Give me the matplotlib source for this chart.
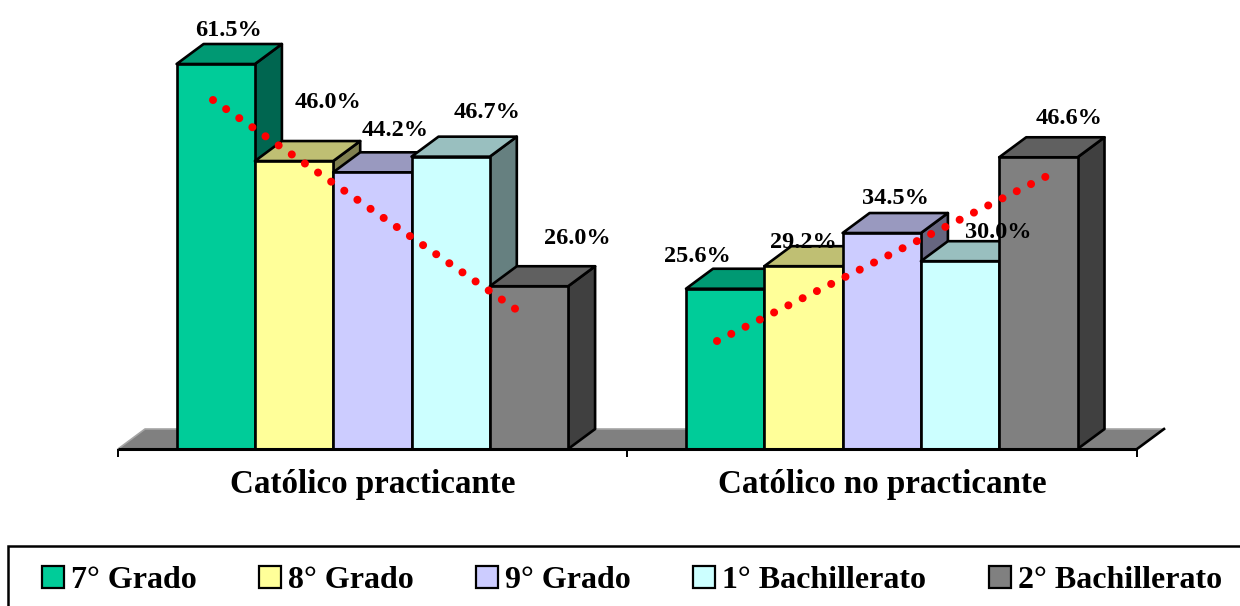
import matplotlib
matplotlib.use('Agg')
import matplotlib.pyplot as plt
from matplotlib.patches import Polygon, Rectangle

plt.rcParams['font.family'] = ['Liberation Serif', 'DejaVu Serif']
plt.rcParams['font.weight'] = 'bold'

# Values
categories = ["Católico practicante", "Católico no practicante"]
grades = ["7° Grado", "8° Grado", "9° Grado", "1° Bachillerato", "2° Bachillerato"]
practicante = [61.5, 46.0, 44.2, 46.7, 26.0]
no_practicante = [25.6, 29.2, 34.5, 30.0, 46.6]
trend_practicante = [55.75, 22.2]
trend_no_practicante = [17.25, 43.6]

# front, top, side
front_colors = ["#00CC99", "#FFFF99", "#CCCCFF", "#CCFFFF", "#808080"]
top_colors = ["#009973", "#BFBF73", "#9999BF", "#99BFBF", "#606060"]
side_colors = ["#006650", "#808050", "#666680", "#668080", "#404040"]

# Layout, in pixels of the 1240x606 picture
BASE_PX = 449
PX_PER_PCT = 6.26
BAR_W = 78.3
DX = 27
DY_PX = 20
group_left = [176.6, 686]
group_center = [373, 882]
label_x = [[228, 328, 395, 487, 577], [697, 803, 895, 998, 1069]]
label_y = [[30, 103, 130, 112, 238], [257, 243, 199, 232, 119]]
trend_x = [[213, 517], [717, 1047]]
legend_swatch_x = [42, 259, 476, 693, 989]


def py(y_px):
    # picture row to percent
    return (BASE_PX - y_px) / PX_PER_PCT


fig = plt.figure(figsize=(12.4, 6.06), dpi=100)
ax = fig.add_axes([0, 0, 1, 1])
ax.set_xlim(0, 1240)
ax.set_ylim(py(606), py(0))
ax.axis('off')

dy = DY_PX / PX_PER_PCT
lw = 1.9

# floor
ax.add_patch(Polygon([(118, 0), (118 + DX, dy), (1137 + DX, dy), (1137, 0)],
                     closed=True, facecolor="#808080", edgecolor="none", zorder=1))
ax.plot([118, 118 + DX, 1137 + DX], [0, dy, dy], color="#A6A6A6", lw=1.2, zorder=1.5)
ax.plot([1137, 1137 + DX], [0, dy], color="black", lw=lw, zorder=1.5)

# bars, left to right so each one covers the side of the previous
z = 2
for left, values in zip(group_left, [practicante, no_practicante]):
    for i, v in enumerate(values):
        x0 = left + i * BAR_W
        x1 = x0 + BAR_W
        ax.add_patch(Polygon([(x1, 0), (x1 + DX, dy), (x1 + DX, v + dy), (x1, v)], closed=True,
                             facecolor=side_colors[i], edgecolor="black", lw=lw,
                             joinstyle='round', zorder=z))
        ax.add_patch(Polygon([(x0, v), (x0 + DX, v + dy), (x1 + DX, v + dy), (x1, v)], closed=True,
                             facecolor=top_colors[i], edgecolor="black", lw=lw,
                             joinstyle='round', zorder=z))
        ax.bar(x0, v, width=BAR_W, align='edge', color=front_colors[i], edgecolor="black",
               linewidth=lw, zorder=z)
        z += 0.1

# axis line and ticks
ax.plot([118, 1137], [0, 0], color="black", lw=lw + 0.3, zorder=20, solid_capstyle='butt')
for tx in [118, 627, 1137]:
    ax.plot([tx, tx], [0, py(457)], color="black", lw=1.4, zorder=20, solid_capstyle='butt')

# trend lines
for xs, ys in zip(trend_x, [trend_practicante, trend_no_practicante]):
    ax.plot(xs, ys, color="#FF0000", lw=5.8, linestyle=(0, (0.001, 1.98)),
            dash_capstyle='round', zorder=30)

# value labels
for g, values in enumerate([practicante, no_practicante]):
    for i, v in enumerate(values):
        ax.text(label_x[g][i], py(label_y[g][i]), f"{v:.1f}%", fontsize=17.5, ha='center',
                va='center', color="black", zorder=40)

for cx, cat in zip(group_center, categories):
    ax.text(cx, py(484), cat, fontsize=23.8, ha='center', va='center', color="black", zorder=40)

# legend box runs off the picture on the right and at the bottom
ax.add_patch(Rectangle((8, py(640)), 1300, py(546) - py(640), facecolor="white",
                       edgecolor="black", lw=1.8, zorder=50))
for sx, name, col in zip(legend_swatch_x, grades, front_colors):
    ax.add_patch(Rectangle((sx, py(588)), 22, py(566) - py(588), facecolor=col,
                           edgecolor="black", lw=1.6, zorder=51))
    ax.text(sx + 29, py(588), name, fontsize=23, ha='left', va='baseline', color="black", zorder=52)

fig.savefig("out.png", dpi=100)
plt.close()
